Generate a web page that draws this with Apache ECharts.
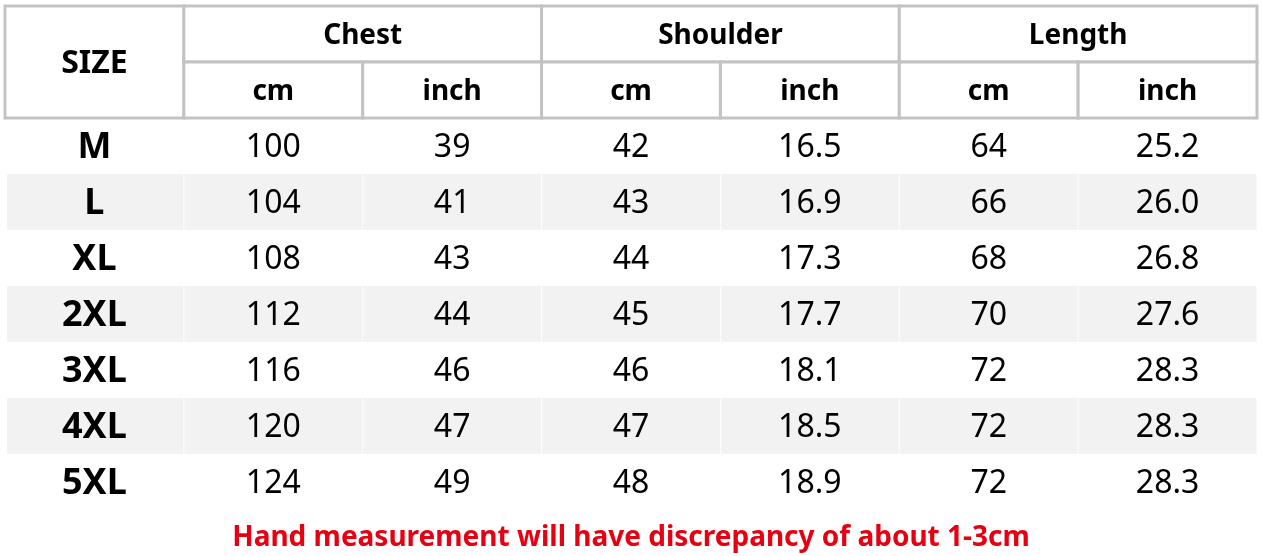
<!DOCTYPE html>
<html><head><meta charset="utf-8">
<script src="https://cdn.jsdelivr.net/npm/echarts/dist/echarts.min.js"></script>
<style>html,body{margin:0;padding:0;background:#fff}#c{width:1262px;height:556px}</style>
</head><body><div id="c"></div>
<script>
const sizeHeader = 'SIZE';
const groups = ['Chest', 'Shoulder', 'Length'];
const units = ['cm', 'inch'];
const sizes = ['M', 'L', 'XL', '2XL', '3XL', '4XL', '5XL'];
const chestCm = [100, 104, 108, 112, 116, 120, 124];
const chestInch = [39, 41, 43, 44, 46, 47, 49];
const shoulderCm = [42, 43, 44, 45, 46, 47, 48];
const shoulderInch = [16.5, 16.9, 17.3, 17.7, 18.1, 18.5, 18.9];
const lengthCm = [64, 66, 68, 70, 72, 72, 72];
const lengthInch = [25.2, 26.0, 26.8, 27.6, 28.3, 28.3, 28.3];
const note = 'Hand measurement will have discrepancy of about 1-3cm';

const columns = [
  { vals: chestCm, dec: 0 }, { vals: chestInch, dec: 0 },
  { vals: shoulderCm, dec: 0 }, { vals: shoulderInch, dec: 1 },
  { vals: lengthCm, dec: 0 }, { vals: lengthInch, dec: 1 }
];
const colKeys = ['size'].concat(...groups.map(g => units.map(u => g + ' ' + u)));
const rowKeys = ['group', 'unit'].concat(sizes);

const cells = [];
cells.push({ x: 0, y: 0, text: sizeHeader, sx: 1, sy: 2, kind: 'corner' });
groups.forEach((g, i) => {
  cells.push({ x: 1 + 2 * i, y: 0, text: g, sx: 2, sy: 1, kind: 'head' });
  units.forEach((u, j) => cells.push({ x: 1 + 2 * i + j, y: 1, text: u, sx: 1, sy: 1, kind: 'head' }));
});
sizes.forEach((s, r) => {
  const stripe = r % 2 === 1;
  cells.push({ x: 0, y: 2 + r, text: s, sx: 1, sy: 1, kind: 'label', stripe });
  columns.forEach((c, k) => cells.push({ x: 1 + k, y: 2 + r, text: c.vals[r].toFixed(c.dec), sx: 1, sy: 1, kind: 'num', stripe }));
});

const FONT = '"Noto Sans", "Open Sans", sans-serif';
const fonts = {
  corner: 'bold 32px ' + FONT,
  head: 'bold 28px ' + FONT,
  label: 'bold 36px ' + FONT,
  num: '32px ' + FONT
};

function renderItem(params, api) {
  const cell = cells[params.dataIndex];
  const c = api.coord([api.value(0), api.value(1)]);
  const sz = api.size([1, 1]);
  const x0 = c[0] - sz[0] / 2, y0 = c[1] - sz[1] / 2;
  const w = sz[0] * cell.sx, h = sz[1] * cell.sy;
  const children = [];
  if (cell.kind === 'head' || cell.kind === 'corner') {
    children.push({ type: 'rect', shape: { x: x0, y: y0, width: w, height: h },
      style: { fill: '#fff', stroke: '#c3c3c3', lineWidth: 3 } });
  } else if (cell.stripe) {
    children.push({ type: 'rect', shape: { x: x0 + (cell.x === 0 ? 2 : 0.5), y: y0, width: w - (cell.x === 0 ? 2.5 : 1), height: h },
      style: { fill: '#f2f2f2' } });
  }
  children.push({ type: 'text', style: { text: cell.text, x: x0 + w / 2, y: y0 + h / 2 + 2,
    align: 'center', verticalAlign: 'middle', font: fonts[cell.kind], fill: '#000' } });
  return { type: 'group', children };
}

const chart = echarts.init(document.getElementById('c'));
chart.setOption({
  animation: false,
  backgroundColor: '#fff',
  title: { text: note, left: 'center', top: 519,
    textStyle: { color: '#e50012', fontSize: 28, fontWeight: 'bold', fontFamily: FONT } },
  grid: { left: 5, top: 6, width: 1252, height: 504 },
  xAxis: { type: 'category', data: colKeys, show: false },
  yAxis: { type: 'category', data: rowKeys, inverse: true, show: false },
  series: [{ type: 'custom', clip: false, renderItem, data: cells.map(c => [c.x, c.y]) }]
});
</script></body></html>
